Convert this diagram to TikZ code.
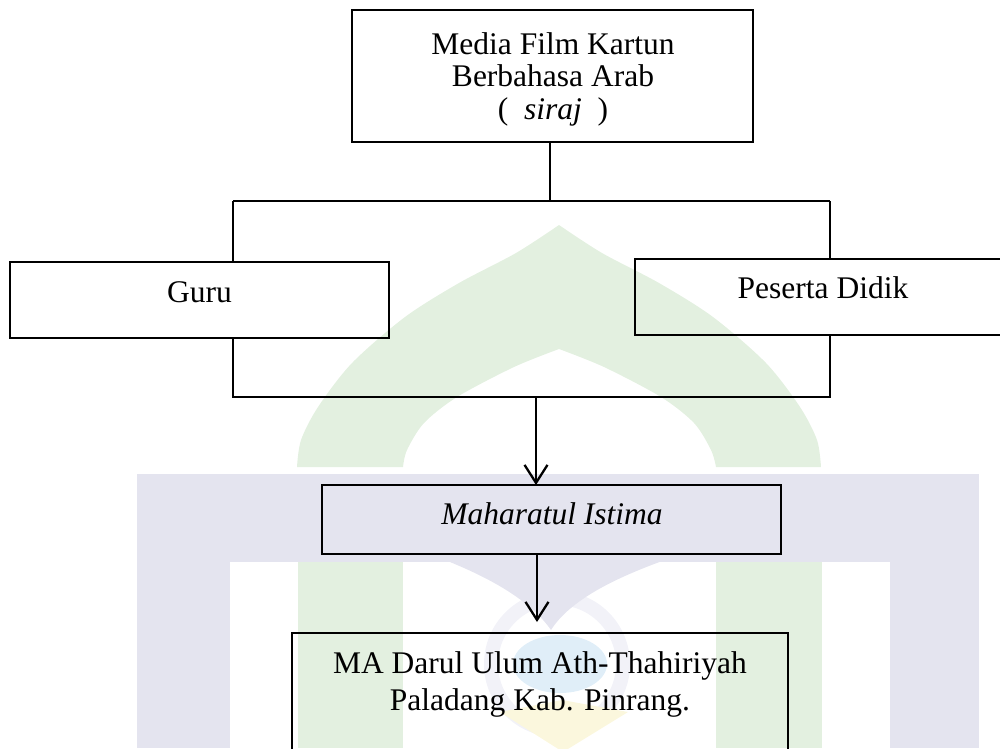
\documentclass[tikz,border=0pt]{standalone}
\usepackage{fontspec}
\setmainfont{Liberation Serif}
\usetikzlibrary{arrows.meta}
\definecolor{wmgreen}{RGB}{227,240,224}
\definecolor{wmlav}{RGB}{228,228,239}
\definecolor{wmring}{RGB}{242,242,248}
\definecolor{wmblue}{RGB}{224,238,248}
\definecolor{wmyellow}{RGB}{251,247,221}
\begin{document}
\begin{tikzpicture}[x=1pt,y=-1pt,
  box/.style={draw=black,line width=2.3pt,rectangle,inner sep=0pt,outer sep=0pt},
  conn/.style={draw=black,line width=2.3pt},
  arr/.style={conn,-{Straight Barb[length=18pt,width=23pt]}},
  lbl/.style={font=\fontsize{31.5pt}{32.5pt}\selectfont,inner sep=0pt,anchor=base,align=center},
  lblb/.style={font=\fontsize{31.5pt}{37pt}\selectfont,inner sep=0pt,anchor=base,align=center}]
\useasboundingbox (0,0) rectangle (1000,748);
\clip (0,0) rectangle (1000,748);
% ---------- faint watermark ----------
\fill[wmgreen] plot[smooth] coordinates {(297,467) (301,440) (318,407) (352,363) (405,317) (459,283) (516,253) (559,225)}
  -- plot[smooth] coordinates {(559,225) (602,253) (659,283) (713,317) (766,363) (800,407) (817,440) (821,467)}
  -- (716,467)
  -- plot[smooth] coordinates {(716,467) (711,450) (694,423) (661,397) (604,367) (559,349)}
  -- plot[smooth] coordinates {(559,349) (514,367) (457,397) (424,423) (407,450) (403,467)}
  -- cycle;
\fill[wmgreen] (298,562) rectangle (403,748);
\fill[wmgreen] (716,562) rectangle (822,748);
\fill[wmlav] (137,474) rectangle (979,562);
\fill[wmlav] (137,562) rectangle (230,748);
\fill[wmlav] (890,562) rectangle (979,748);
\draw[wmring,line width=14pt] (557,664) circle (66);
\fill[wmlav] (445,560) .. controls (490,578) and (530,600) .. (551,630)
  .. controls (570,600) and (615,578) .. (665,560) -- cycle;
\fill[wmblue] (560,664) ellipse [x radius=47, y radius=29];
\fill[wmyellow] (500,712) -- (562,700) -- (628,712) -- (563,752) -- cycle;
% ---------- boxes ----------
\node[box,minimum width=401pt,minimum height=132pt] (top) at (552.5,76) {};
\node[box,minimum width=379pt,minimum height=76pt] (guru) at (199.5,300) {};
\node[box,minimum width=375pt,minimum height=76pt] (peserta) at (822.5,297) {};
\node[box,minimum width=459pt,minimum height=69pt] (mah) at (551.5,519.5) {};
\node[box,minimum width=496pt,minimum height=127pt] (ma) at (540,696.5) {};
% ---------- texts ----------
\node[lbl] (ttop) at (553,119) {Media Film Kartun\\Berbahasa Arab\\(\ \ \textit{siraj}\ \ )};
\node[lbl] (tguru) at (199.5,302) {Guru};
\node[lbl] (tpes) at (823,298) {Peserta Didik};
\node[lbl] (tmah) at (552,524) {\textit{Maharatul Istima}};
\node[lblb] (tma) at (540,710) {MA Darul Ulum Ath-Thahiriyah\\Paladang Kab. Pinrang.};
% ---------- connectors ----------
\coordinate (j1) at (550,201);
\coordinate (tl) at (233,201);
\coordinate (tr) at (830,201);
\coordinate (bl) at (233,397);
\coordinate (br) at (830,397);
\coordinate (j2) at (536,397);
\coordinate (a2end) at (537,622);
\draw[conn] (top.south -| j1) -- (j1);
\draw[conn] (tl) -- (tr);
\draw[conn] (tl) -- (tl |- guru.north);
\draw[conn] (tr) -- (tr |- peserta.north);
\draw[conn] (bl |- guru.south) -- (bl) -- (br) -- (br |- peserta.south);
\draw[arr] (j2) -- (j2 |- mah.north);
\draw[arr] (mah.south -| a2end) -- (a2end);
\end{tikzpicture}
\end{document}
